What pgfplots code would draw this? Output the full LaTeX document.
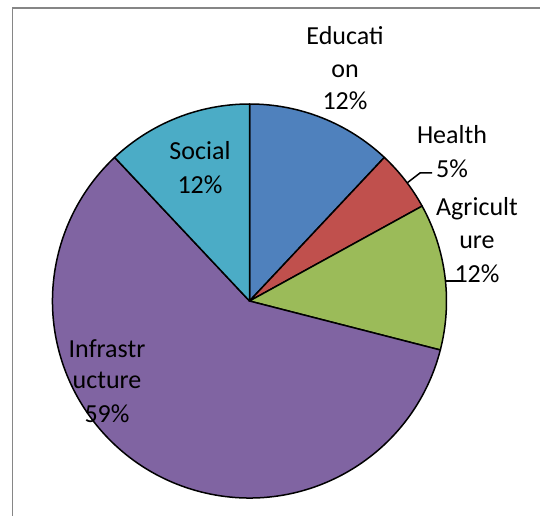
\documentclass[border=0pt]{standalone}
\usepackage{pgfplots}
\usepackage{pgfplotstable}
\pgfplotsset{compat=1.18}
\usepackage{fontspec}
\setmainfont{Carlito}

\definecolor{edu}{HTML}{4F81BD}
\definecolor{hea}{HTML}{C0504D}
\definecolor{agr}{HTML}{9BBB59}
\definecolor{inf}{HTML}{8064A2}
\definecolor{soc}{HTML}{4BACC6}
\definecolor{frame}{HTML}{868686}

% share of each sector, in percent, clockwise from twelve o'clock
\pgfplotstableread{
label value colour
Education 12 edu
Health 5 hea
Agriculture 12 agr
Infrastructure 59 inf
Social 12 soc
}\piedata

\pgfplotstablegetrowsof{\piedata}
\pgfmathtruncatemacro{\pieN}{\pgfplotsretval-1}
% cumulative start and end angles of every slice
\gdef\pieacc{90}
\pgfplotsforeachungrouped \i in {0,...,\pieN}{%
  \pgfplotstablegetelem{\i}{value}\of\piedata
  \pgfmathsetmacro{\pieend}{\pieacc-3.6*\pgfplotsretval}%
  \expandafter\xdef\csname pieS\i\endcsname{\pieacc}%
  \expandafter\xdef\csname pieE\i\endcsname{\pieend}%
  \pgfplotstablegetelem{\i}{colour}\of\piedata
  \expandafter\xdef\csname pieC\i\endcsname{\pgfplotsretval}%
  \xdef\pieacc{\pieend}%
}

\newcommand{\cx}{249.5}
\newcommand{\cy}{215}
\newcommand{\R}{197}

\begin{document}
\begin{tikzpicture}
\useasboundingbox (0,0) rectangle (540bp,516bp);
\begin{axis}[
  x=1bp, y=1bp,
  xmin=0, xmax=540, ymin=0, ymax=516,
  at={(0,0)}, anchor=origin,
  hide axis, clip=false,
]
% chart area border (top and left edges)
\draw[frame, line width=1.5bp] (axis cs:12.5,-10) -- (axis cs:12.5,508) -- (axis cs:560,508);

\pgfplotsinvokeforeach{0,...,4}{
  \filldraw[fill=\csname pieC#1\endcsname, draw=black, line width=1.5bp, line join=round]
    (axis cs:\cx,\cy) -- ++(\csname pieS#1\endcsname:\R bp)
    arc[start angle=\csname pieS#1\endcsname, end angle=\csname pieE#1\endcsname, radius=\R bp]
    -- cycle;
}

% leader lines
\draw[black, line width=1.5bp] (axis cs:407,333) -- (axis cs:420,343) -- (axis cs:432,343);
\draw[black, line width=1.5bp] (axis cs:445,235) -- (axis cs:462,235);

% data labels
\begin{scope}[every node/.style={anchor=base, inner sep=0pt, font=\fontsize{26bp}{32bp}\selectfont}]
\node at (axis cs:345,471) {Educati};
\node at (axis cs:345,438) {on};
\node at (axis cs:345,406) {12\%};
\node at (axis cs:452,373) {Health};
\node at (axis cs:452,339) {5\%};
\node at (axis cs:477,301) {Agricult};
\node at (axis cs:477,268) {ure};
\node at (axis cs:477,234) {12\%};
\node at (axis cs:200,357) {Social};
\node at (axis cs:200,323) {12\%};
\node at (axis cs:107,159) {Infrastr};
\node at (axis cs:107,128) {ucture};
\node at (axis cs:107,94) {59\%};
\end{scope}
\end{axis}
\end{tikzpicture}
\end{document}
